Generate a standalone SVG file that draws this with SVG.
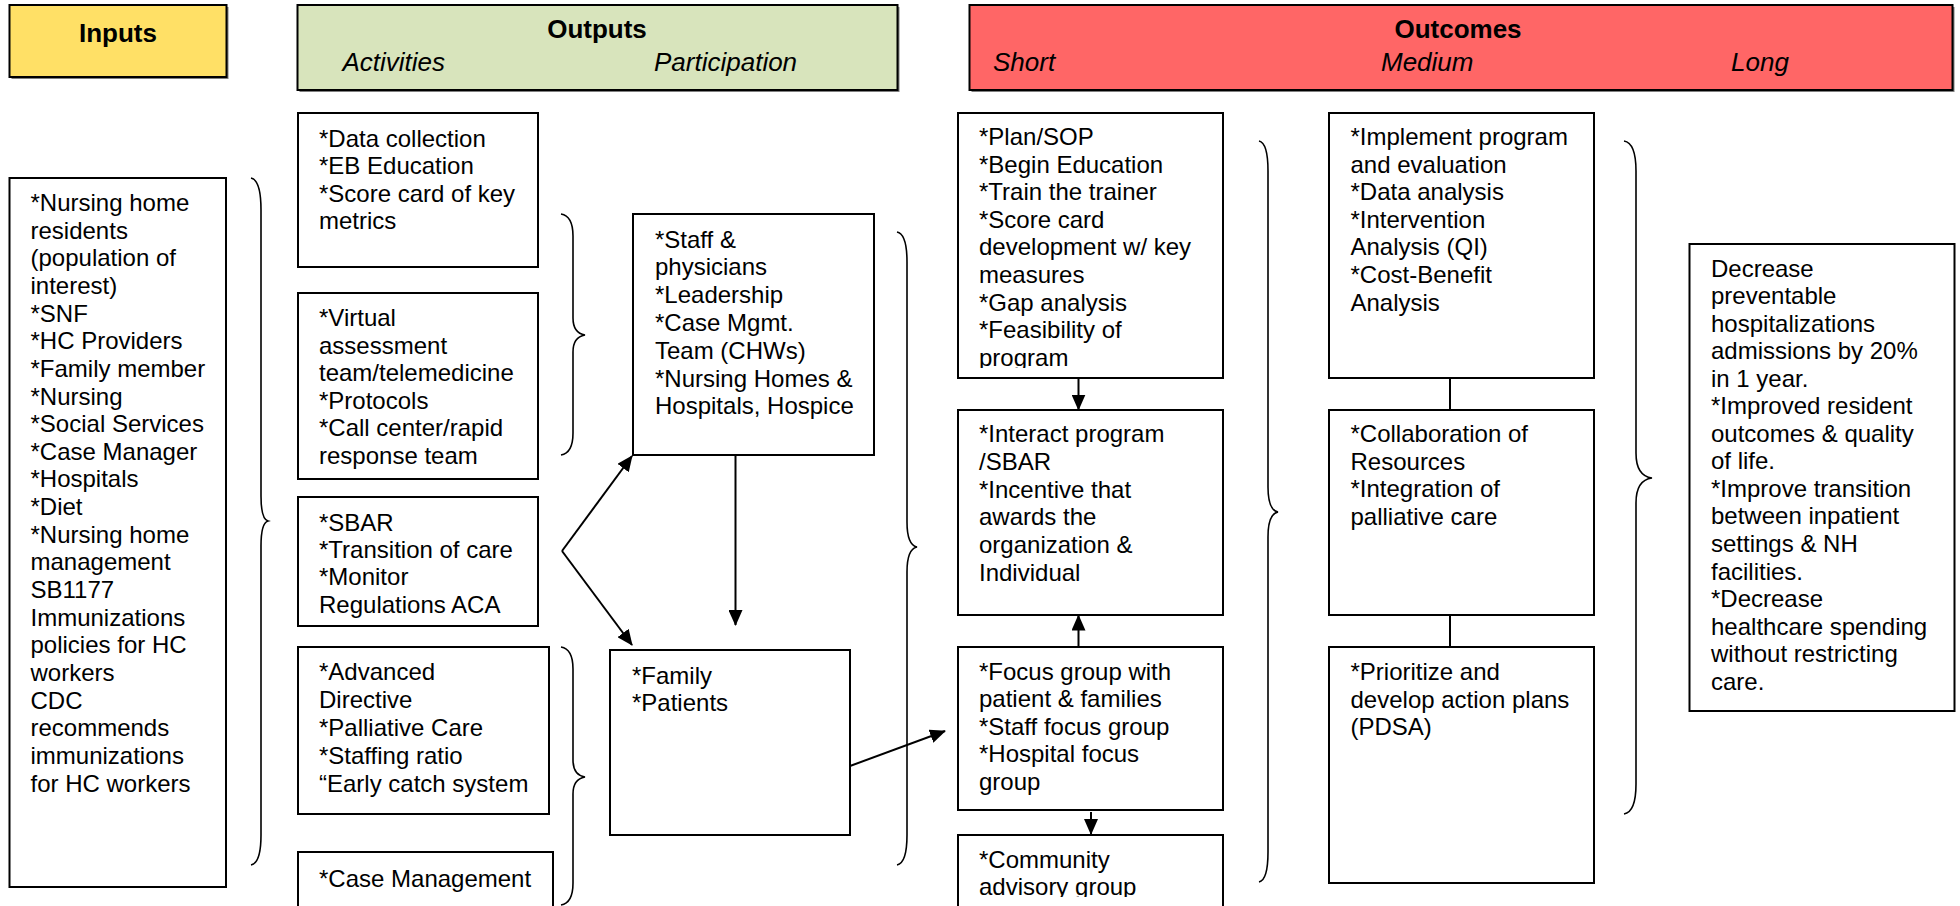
<svg xmlns="http://www.w3.org/2000/svg" width="1960" height="906" viewBox="0 0 1960 906">
<style>
.box{fill:#fff;stroke:#000;stroke-width:2}
.hdr{stroke:#000;stroke-width:2}
.shadow{fill:#7f7f7f}
.t{font-family:"Liberation Sans",Arial,sans-serif;font-size:24px;fill:#000}
.hb{font-family:"Liberation Sans",Arial,sans-serif;font-size:26px;font-weight:bold;fill:#000}
.hi{font-family:"Liberation Sans",Arial,sans-serif;font-size:26px;font-style:italic;fill:#000}
.brace{fill:none;stroke:#000;stroke-width:1.6}
.conn{fill:none;stroke:#000;stroke-width:2}
</style>
<defs>
<marker id="ah" markerUnits="userSpaceOnUse" viewBox="0 0 16 14" markerWidth="16" markerHeight="14" refX="15" refY="7" orient="auto">
<path d="M0,0 L16,7 L0,14 z" fill="#000"/>
</marker>
<clipPath id="clipS1"><rect x="958" y="113" width="265" height="255"/></clipPath>
<clipPath id="clipS4"><rect x="958" y="835" width="265" height="62"/></clipPath>
</defs>
<rect width="1960" height="906" fill="#fff"/>

<g id="hdr-inputs">
<rect class="shadow" x="11.5" y="7" width="217" height="72"/>
<rect class="hdr" x="9.5" y="5" width="217" height="72" fill="#FFE066"/>
<text class="hb" x="118" y="42" text-anchor="middle">Inputs</text>
</g>
<g id="hdr-outputs">
<rect class="shadow" x="299.5" y="7" width="600" height="85"/>
<rect class="hdr" x="297.5" y="5" width="600" height="85" fill="#D8E4BC"/>
<text class="hb" x="597" y="38" text-anchor="middle">Outputs</text>
<text class="hi" x="342.5" y="70.5">Activities</text>
<text class="hi" x="654" y="70.5">Participation</text>
</g>
<g id="hdr-outcomes">
<rect class="shadow" x="971.5" y="7" width="983" height="85"/>
<rect class="hdr" x="969.5" y="5" width="983" height="85" fill="#FF6666"/>
<text class="hb" x="1458" y="38" text-anchor="middle">Outcomes</text>
<text class="hi" x="993" y="70.5">Short</text>
<text class="hi" x="1381" y="70.5">Medium</text>
<text class="hi" x="1731" y="70.5">Long</text>
</g>

<g id="inputs">
<rect class="box" x="9.5" y="178" width="216.5" height="709"/>
<text class="t" x="30.5" y="211"><tspan x="30.5">*Nursing home</tspan><tspan x="30.5" dy="27.65">residents</tspan><tspan x="30.5" dy="27.65">(population of</tspan><tspan x="30.5" dy="27.65">interest)</tspan><tspan x="30.5" dy="27.65">*SNF</tspan><tspan x="30.5" dy="27.65">*HC Providers</tspan><tspan x="30.5" dy="27.65">*Family member</tspan><tspan x="30.5" dy="27.65">*Nursing</tspan><tspan x="30.5" dy="27.65">*Social Services</tspan><tspan x="30.5" dy="27.65">*Case Manager</tspan><tspan x="30.5" dy="27.65">*Hospitals</tspan><tspan x="30.5" dy="27.65">*Diet</tspan><tspan x="30.5" dy="27.65">*Nursing home</tspan><tspan x="30.5" dy="27.65">management</tspan><tspan x="30.5" dy="27.65">SB1177</tspan><tspan x="30.5" dy="27.65">Immunizations</tspan><tspan x="30.5" dy="27.65">policies for HC</tspan><tspan x="30.5" dy="27.65">workers</tspan><tspan x="30.5" dy="27.65">CDC</tspan><tspan x="30.5" dy="27.65">recommends</tspan><tspan x="30.5" dy="27.65">immunizations</tspan><tspan x="30.5" dy="27.65">for HC workers</tspan></text>
</g>

<g id="act-data">
<rect class="box" x="298" y="113" width="240" height="154"/>
<text class="t" y="146.5"><tspan x="319">*Data collection</tspan><tspan x="319" dy="27.5">*EB Education</tspan><tspan x="319" dy="27.5">*Score card of key</tspan><tspan x="319" dy="27.5">metrics</tspan></text>
</g>
<g id="act-virtual">
<rect class="box" x="298" y="293" width="240" height="186"/>
<text class="t" y="326"><tspan x="319">*Virtual</tspan><tspan x="319" dy="27.5">assessment</tspan><tspan x="319" dy="27.5">team/telemedicine</tspan><tspan x="319" dy="27.5">*Protocols</tspan><tspan x="319" dy="27.5">*Call center/rapid</tspan><tspan x="319" dy="27.5">response team</tspan></text>
</g>
<g id="act-sbar">
<rect class="box" x="298" y="497" width="240" height="129"/>
<text class="t" y="530.5"><tspan x="319">*SBAR</tspan><tspan x="319" dy="27.4">*Transition of care</tspan><tspan x="319" dy="27.4">*Monitor</tspan><tspan x="319" dy="27.4">Regulations ACA</tspan></text>
</g>
<g id="act-advanced">
<rect class="box" x="298" y="647" width="251" height="167"/>
<text class="t" y="680"><tspan x="319">*Advanced</tspan><tspan x="319" dy="27.9">Directive</tspan><tspan x="319" dy="27.9">*Palliative Care</tspan><tspan x="319" dy="27.9">*Staffing ratio</tspan><tspan x="319" dy="27.9">“Early catch system</tspan></text>
</g>
<g id="act-case">
<rect class="box" x="298" y="852" width="255" height="80"/>
<text class="t" x="319" y="886.5">*Case Management</text>
</g>

<g id="part-staff">
<rect class="box" x="633" y="214" width="241" height="241"/>
<text class="t" y="247.5"><tspan x="655">*Staff &amp;</tspan><tspan x="655" dy="27.8">physicians</tspan><tspan x="655" dy="27.8">*Leadership</tspan><tspan x="655" dy="27.8">*Case Mgmt.</tspan><tspan x="655" dy="27.8">Team (CHWs)</tspan><tspan x="655" dy="27.8">*Nursing Homes &amp;</tspan><tspan x="655" dy="27.8">Hospitals, Hospice</tspan></text>
</g>
<g id="part-family">
<rect class="box" x="610" y="650" width="240" height="185"/>
<text class="t" y="683.5"><tspan x="632">*Family</tspan><tspan x="632" dy="27">*Patients</tspan></text>
</g>

<g id="short-plan">
<rect class="box" x="958" y="113" width="265" height="265"/>
<text class="t" y="145" clip-path="url(#clipS1)"><tspan x="979">*Plan/SOP</tspan><tspan x="979" dy="27.6">*Begin Education</tspan><tspan x="979" dy="27.6">*Train the trainer</tspan><tspan x="979" dy="27.6">*Score card</tspan><tspan x="979" dy="27.6">development w/ key</tspan><tspan x="979" dy="27.6">measures</tspan><tspan x="979" dy="27.6">*Gap analysis</tspan><tspan x="979" dy="27.6">*Feasibility of</tspan><tspan x="979" dy="27.6">program</tspan></text>
</g>
<g id="short-interact">
<rect class="box" x="958" y="410" width="265" height="205"/>
<text class="t" y="442"><tspan x="979">*Interact program</tspan><tspan x="979" dy="27.8">/SBAR</tspan><tspan x="979" dy="27.8">*Incentive that</tspan><tspan x="979" dy="27.8">awards the</tspan><tspan x="979" dy="27.8">organization &amp;</tspan><tspan x="979" dy="27.8">Individual</tspan></text>
</g>
<g id="short-focus">
<rect class="box" x="958" y="647" width="265" height="163"/>
<text class="t" y="679.5"><tspan x="979">*Focus group with</tspan><tspan x="979" dy="27.6">patient &amp; families</tspan><tspan x="979" dy="27.6">*Staff focus group</tspan><tspan x="979" dy="27.6">*Hospital focus</tspan><tspan x="979" dy="27.6">group</tspan></text>
</g>
<g id="short-community">
<rect class="box" x="958" y="835" width="265" height="100"/>
<text class="t" y="868" clip-path="url(#clipS4)"><tspan x="979">*Community</tspan><tspan x="979" dy="27">advisory group</tspan></text>
</g>

<g id="med-implement">
<rect class="box" x="1329" y="113" width="265" height="265"/>
<text class="t" y="145"><tspan x="1350.5">*Implement program</tspan><tspan x="1350.5" dy="27.6">and evaluation</tspan><tspan x="1350.5" dy="27.6">*Data analysis</tspan><tspan x="1350.5" dy="27.6">*Intervention</tspan><tspan x="1350.5" dy="27.6">Analysis (QI)</tspan><tspan x="1350.5" dy="27.6">*Cost-Benefit</tspan><tspan x="1350.5" dy="27.6">Analysis</tspan></text>
</g>
<g id="med-collab">
<rect class="box" x="1329" y="410" width="265" height="205"/>
<text class="t" y="442"><tspan x="1350.5">*Collaboration of</tspan><tspan x="1350.5" dy="27.7">Resources</tspan><tspan x="1350.5" dy="27.7">*Integration of</tspan><tspan x="1350.5" dy="27.7">palliative care</tspan></text>
</g>
<g id="med-prioritize">
<rect class="box" x="1329" y="647" width="265" height="236"/>
<text class="t" y="680"><tspan x="1350.5">*Prioritize and</tspan><tspan x="1350.5" dy="27.5">develop action plans</tspan><tspan x="1350.5" dy="27.5">(PDSA)</tspan></text>
</g>

<g id="long-goals">
<rect class="box" x="1689.5" y="244" width="265" height="467"/>
<text class="t" y="276.5"><tspan x="1711">Decrease</tspan><tspan x="1711" dy="27.55">preventable</tspan><tspan x="1711" dy="27.55">hospitalizations</tspan><tspan x="1711" dy="27.55">admissions by 20%</tspan><tspan x="1711" dy="27.55">in 1 year.</tspan><tspan x="1711" dy="27.55">*Improved resident</tspan><tspan x="1711" dy="27.55">outcomes &amp; quality</tspan><tspan x="1711" dy="27.55">of life.</tspan><tspan x="1711" dy="27.55">*Improve transition</tspan><tspan x="1711" dy="27.55">between inpatient</tspan><tspan x="1711" dy="27.55">settings &amp; NH</tspan><tspan x="1711" dy="27.55">facilities.</tspan><tspan x="1711" dy="27.55">*Decrease</tspan><tspan x="1711" dy="27.55">healthcare spending</tspan><tspan x="1711" dy="27.55">without restricting</tspan><tspan x="1711" dy="27.55">care.</tspan></text>
</g>

<g id="braces">
<path class="brace" d="M251,178 Q261,180 261,210 L261,496 Q261,519 268,521 Q261,523 261,546 L261,835 Q261,863 251,865"/>
<path class="brace" d="M561,214 Q573,216 573,236 L573,318 Q573,333 585,335 Q573,337 573,352 L573,433 Q573,453 561,455"/>
<path class="brace" d="M561,647 Q573,649 573,669 L573,760 Q573,775 585,777 Q573,779 573,794 L573,883 Q573,903 561,905"/>
<path class="brace" d="M897,232 Q907,234 907,262 L907,522 Q907,545 917,547 Q907,549 907,572 L907,835 Q907,863 897,865"/>
<path class="brace" d="M1259,141 Q1268,143 1268,171 L1268,487 Q1268,510 1278,512 Q1268,514 1268,537 L1268,852 Q1268,880 1259,882"/>
<path class="brace" d="M1624,141 Q1636,143 1636,171 L1636,453 Q1636,476 1652,478 Q1636,480 1636,503 L1636,784 Q1636,812 1624,814"/>
</g>

<g id="connectors">
<line class="conn" x1="562" y1="551" x2="632" y2="456" marker-end="url(#ah)"/>
<line class="conn" x1="562" y1="551" x2="632" y2="645" marker-end="url(#ah)"/>
<line class="conn" x1="735.5" y1="455" x2="735.5" y2="625" marker-end="url(#ah)"/>
<line class="conn" x1="850" y1="766" x2="945" y2="731" marker-end="url(#ah)"/>
<line class="conn" x1="1078.5" y1="378" x2="1078.5" y2="409.5" marker-end="url(#ah)"/>
<line class="conn" x1="1078.5" y1="647" x2="1078.5" y2="615.5" marker-end="url(#ah)"/>
<line class="conn" x1="1091" y1="812" x2="1091" y2="834" marker-end="url(#ah)"/>
<line class="conn" x1="1450" y1="378" x2="1450" y2="410"/>
<line class="conn" x1="1450" y1="615" x2="1450" y2="647"/>
</g>
</svg>
